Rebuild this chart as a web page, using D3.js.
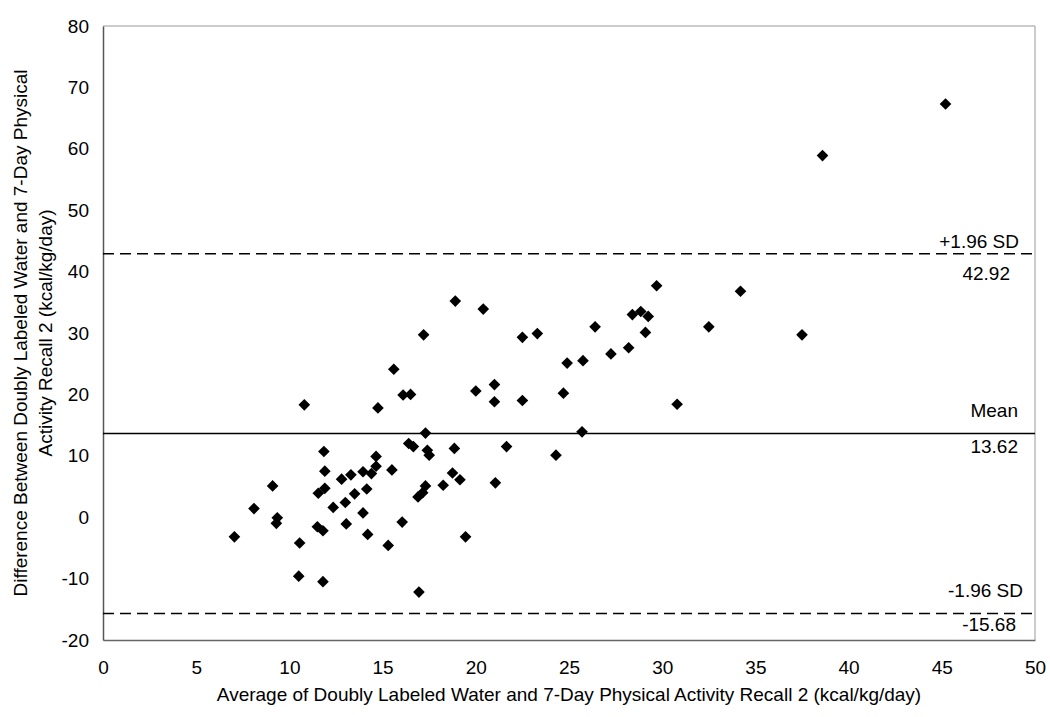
<!DOCTYPE html>
<html>
<head>
<meta charset="utf-8">
<script src="https://cdn.jsdelivr.net/npm/d3@7/dist/d3.min.js"></script>
<style>
  html, body { margin: 0; padding: 0; background: #fff; }
  svg { display: block; font-family: "Liberation Sans", Arial, sans-serif; }
</style>
</head>
<body>
<svg id="chart" width="1050" height="717"></svg>
<script>
// ---- data ----
const avgValues = [
  7.05, 8.1, 9.1, 9.35, 9.3, 10.55, 10.5, 10.8, 11.5, 11.8,
  11.8, 11.55, 11.9, 11.9, 11.85, 12.35, 12.8, 13.0, 13.05, 13.3,
  13.5, 13.95, 13.95, 14.15, 14.2, 14.4, 14.65, 14.65, 14.75, 15.3,
  15.5, 15.6, 16.05, 16.1, 16.5, 16.4, 16.65, 16.9, 17.15, 17.3,
  16.95, 17.2, 17.3, 17.4, 17.5, 18.25, 18.75, 19.15, 18.85, 18.9,
  19.45, 20.0, 20.4, 21.0, 21.0, 21.05, 21.65, 22.5, 22.5, 23.3,
  24.3, 24.7, 24.9, 25.75, 25.7, 26.4, 27.25, 28.2, 28.4, 28.85,
  29.25, 29.1, 29.7, 30.8, 32.5, 34.2, 37.5, 38.6, 45.2
];
const diffValues = [
  -3.2, 1.4, 5.1, -0.1, -1.0, -4.2, -9.6, 18.3, -1.55, -2.2,
  -10.5, 3.9, 4.7, 7.5, 10.7, 1.6, 6.2, 2.4, -1.1, 6.9,
  3.8, 0.7, 7.4, 4.6, -2.8, 7.1, 8.3, 9.9, 17.8, -4.6,
  7.7, 24.1, -0.8, 19.9, 20.0, 12.0, 11.5, 3.3, 4.0, 5.1,
  -12.2, 29.7, 13.7, 10.9, 10.1, 5.2, 7.2, 6.1, 11.2, 35.2,
  -3.2, 20.55, 33.9, 21.6, 18.8, 5.6, 11.5, 19.0, 29.3, 29.9,
  10.1, 20.2, 25.1, 25.5, 13.9, 31.0, 26.6, 27.6, 33.0, 33.5,
  32.7, 30.1, 37.7, 18.4, 31.0, 36.8, 29.7, 58.9, 67.3
];
const xTicks = [0, 5, 10, 15, 20, 25, 30, 35, 40, 45, 50];
const yTicks = [-20, -10, 0, 10, 20, 30, 40, 50, 60, 70, 80];
const refValues = [42.92, 13.62, -15.68];
const refNames = ["+1.96 SD", "Mean", "-1.96 SD"];
const refValueLabels = ["42.92", "13.62", "-15.68"];
const xTitle = "Average of Doubly Labeled Water and 7-Day Physical Activity Recall 2 (kcal/kg/day)";
const yTitleLines = ["Difference Between Doubly Labeled Water and 7-Day Physical", "Activity Recall 2 (kcal/kg/day)"];

// ---- layout / style ----
const mLeft = 103, mRight = 1035, mTop = 26, mBottom = 640;
const FS = 19;
// label placement relative to each reference line: [name dy, value dy, name right inset, value right inset]
const refNameDy = [-12, -23, -23];
const refValDy = [20, 13, 11];
const refNameInset = [16, 17, 12];
const refValInset = [25, 17, 19];

const svg = d3.select("#chart");
const x = d3.scaleLinear().domain([0, 50]).range([mLeft, mRight]);
const y = d3.scaleLinear().domain([-20, 80]).range([mBottom, mTop]);

// frame
svg.append("line").attr("x1", mLeft).attr("x2", mRight).attr("y1", mTop).attr("y2", mTop)
  .attr("stroke", "#999").attr("stroke-width", 1);
svg.append("line").attr("x1", mRight).attr("x2", mRight).attr("y1", mTop).attr("y2", mBottom)
  .attr("stroke", "#999").attr("stroke-width", 1);

const fmt = d => String(d);

// axes (no tick marks, just labels)
const xAxis = d3.axisBottom(x).tickValues(xTicks).tickFormat(fmt).tickSize(0).tickPadding(21);
const gx = svg.append("g").attr("transform", `translate(0,${mBottom})`).call(xAxis);
gx.select(".domain").attr("stroke", "#666").attr("stroke-width", 1.5);
gx.selectAll("text").attr("font-size", FS).attr("fill", "#000")
  .attr("font-family", "Liberation Sans, Arial, sans-serif");

const yAxis = d3.axisLeft(y).tickValues(yTicks).tickFormat(fmt).tickSize(0).tickPadding(14);
const gy = svg.append("g").attr("transform", `translate(${mLeft},0)`).call(yAxis);
gy.select(".domain").attr("stroke", "#555").attr("stroke-width", 1.5);
gy.selectAll("text").attr("font-size", FS).attr("fill", "#000")
  .attr("font-family", "Liberation Sans, Arial, sans-serif");

// reference lines
refValues.forEach((v, i) => {
  const ln = svg.append("line")
    .attr("x1", mLeft).attr("x2", mRight)
    .attr("y1", y(v)).attr("y2", y(v))
    .attr("stroke", "#000").attr("stroke-width", 1.5);
  if (i !== 1) ln.attr("stroke-dasharray", "11,6");
  svg.append("text").attr("x", mRight - refNameInset[i]).attr("y", y(v) + refNameDy[i])
    .attr("text-anchor", "end").attr("dominant-baseline", "central")
    .attr("font-size", FS).text(refNames[i]);
  svg.append("text").attr("x", mRight - refValInset[i]).attr("y", y(v) + refValDy[i])
    .attr("text-anchor", "end").attr("dominant-baseline", "central")
    .attr("font-size", FS).text(refValueLabels[i]);
});

// points
const pts = avgValues.map((a, i) => ({ a, d: diffValues[i] }));
const sym = d3.symbol().type(d3.symbolSquare).size(68);
svg.append("g").selectAll("path").data(pts).join("path")
  .attr("d", sym)
  .attr("transform", p => `translate(${x(p.a)},${y(p.d)}) rotate(45)`)
  .attr("fill", "#000");

// titles
svg.append("text").attr("x", (mLeft + mRight) / 2).attr("y", 701)
  .attr("text-anchor", "middle").attr("font-size", FS).text(xTitle);
const yt = svg.append("text")
  .attr("transform", `translate(0,${(mTop + mBottom) / 2}) rotate(-90)`)
  .attr("text-anchor", "middle").attr("font-size", FS);
yTitleLines.forEach((t, i) => {
  yt.append("tspan").attr("x", 0).attr("y", 27 + i * 25).text(t);
});
</script>
</body>
</html>
